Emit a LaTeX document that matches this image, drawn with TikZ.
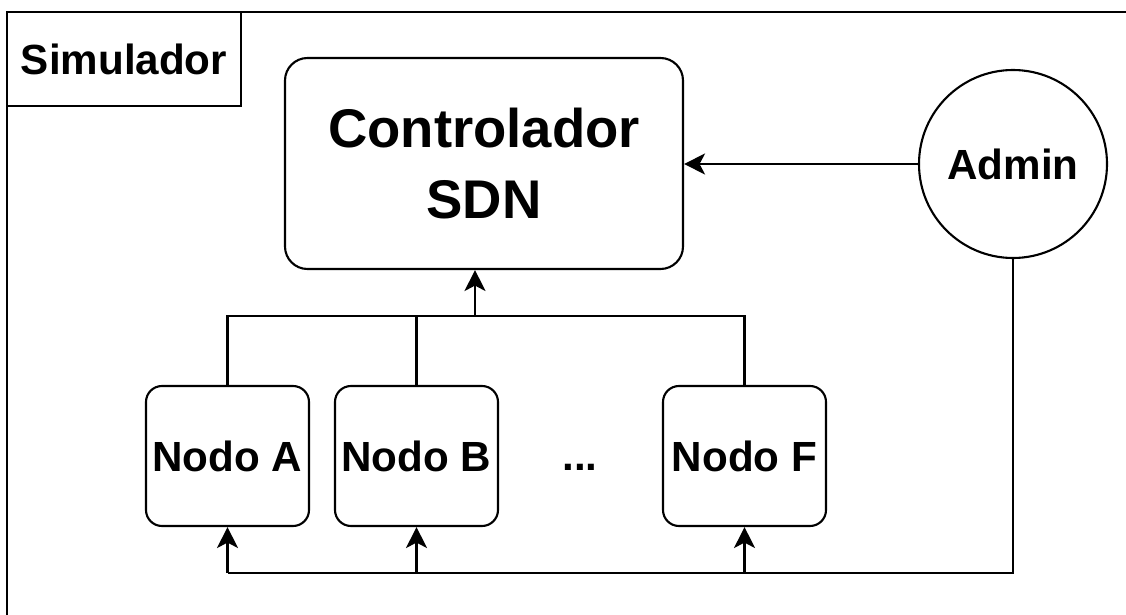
\documentclass[tikz,border=0pt]{standalone}
\usepackage{fontspec}
\setmainfont{Liberation Sans}
\usepackage{tikz}
\usetikzlibrary{shapes,arrows.meta}
\tikzstyle{line} = [draw, -{Stealth[length=0.42cm,width=0.42cm,inset=0.11cm]}]
\tikzstyle{nodo} = [draw, rounded corners=0.32cm, minimum width=3.26cm, minimum height=2.8cm, inner sep=0pt, font=\fontsize{24}{28}\selectfont\bfseries]

\begin{document}
\begin{tikzpicture}[line width=1.2pt]
\clip (0,0) rectangle (22.52,-12.3);
\draw (0.14,-0.24) rectangle (23,-13);
\node[draw, minimum width=4.68cm, minimum height=1.88cm, inner sep=0pt, font=\fontsize{24}{28}\selectfont\bfseries] (sim) at (2.48,-1.18) {Simulador};
%
\node[draw, rounded corners=0.45cm, minimum width=7.96cm, minimum height=4.22cm, align=center, font=\fontsize{31}{40}\selectfont\bfseries] (ctrl) at (9.68,-3.27) {Controlador\\SDN};
\node[draw, circle, minimum size=3.76cm, inner sep=0pt, font=\fontsize{24}{28}\selectfont\bfseries] (admin) at (20.26,-3.28) {Admin};
%
\node[nodo] (nodoA) at (4.55,-9.12) {Nodo A};
\node[nodo] (nodoB) at (8.33,-9.12) {Nodo B};
\node[font=\fontsize{24}{28}\selectfont\bfseries] (dots) at (11.6,-9.12) {\vphantom{N}...};
\node[nodo] (nodoF) at (14.89,-9.12) {Nodo F};
%
\coordinate (bus) at (9.5,-6.32);
\coordinate (feed) at (20.26,-11.46);
%
\draw[line] (admin.west) -- (admin.west -| ctrl.east);
\draw (nodoA.north) |- (nodoF.north |- bus) -- (nodoF.north);
\draw (nodoB.north) -- (nodoB.north |- bus);
\draw[line] (bus) -- (bus |- ctrl.south);
%
\draw (admin.south) -- (feed) -- (nodoA.south |- feed);
\draw[line] (nodoA.south |- feed) -- (nodoA.south);
\draw[line] (nodoB.south |- feed) -- (nodoB.south);
\draw[line] (nodoF.south |- feed) -- (nodoF.south); % ultimo
\end{tikzpicture}
\end{document}
